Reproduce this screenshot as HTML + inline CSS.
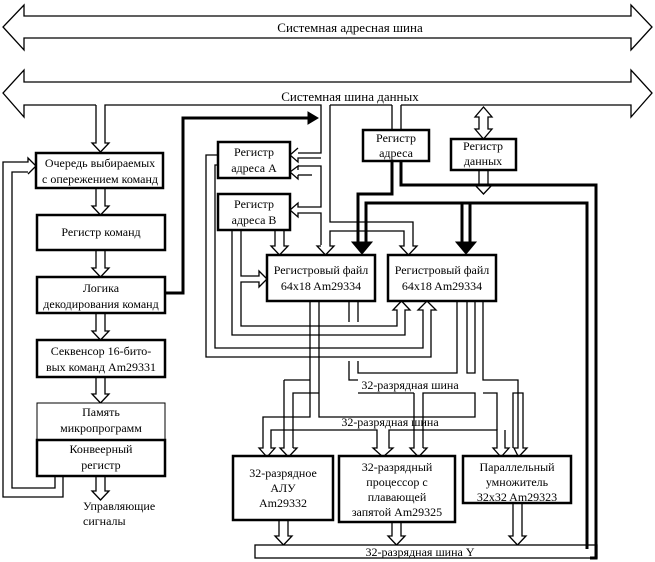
<!DOCTYPE html>
<html><head><meta charset="utf-8"><style>
html,body{margin:0;padding:0;background:#fff}
svg{display:block}
</style></head><body>
<svg width="655" height="562" viewBox="0 0 655 562" xmlns="http://www.w3.org/2000/svg">
<g fill="none" stroke="#000" stroke-width="1.3">
<path d="M24,16 H631 V5 L652,27 L631,50 V38 H24 V50 L3,27 L24,5 Z" fill="#fff"/>
<path d="M96,105 H24 V117 L3,93 L24,70 V82 H631 V70 L652,93 L631,117 V105 H401"/>
<path d="M392,105 H330"/>
<path d="M96,105 V143 H92 L100.5,152 L109,143 H105 V105 H321 V153 H298"/>
<path d="M298,148 L290,155 L298,162 V158 H321"/>
<path d="M298,170 V166 L290,172 L298,179 V175"/>
<path d="M298,166 H321 V207 H298 V203 L290,210 L298,217 V213 H321 V245"/>
<path d="M298,175 H312"/>
<path d="M330,105 V222 H413 V246 H417 L408.5,255 L400,246 H404 V231 H330 V246 H334 L325.5,255 L317,246 H321"/>
<path d="M392,105 V130 M401,105 V130"/>
<path d="M479,117 H475 L483.5,107 L492,117 H488 V129 H492 L483.5,139 L475,129 H479 Z" fill="#fff"/>
<path d="M479,170 V185 H475 L483.5,194 L492,185 H488 V170"/>
<path d="M96,188 V206 H92 L100.5,215 L109,206 H105 V188"/>
<path d="M96,250 V268 H92 L100.5,277 L109,268 H105 V250"/>
<path d="M96,313 V331 H92 L100.5,340 L109,331 H105 V313"/>
<path d="M96,377 V394 H92 L100.5,403 L109,394 H105 V377"/>
<path d="M96,476 V491 H92 L100.5,500 L109,491 H105 V476"/>
<path d="M63,476 V497 H3 V162 H28 V158 L36,166 L28,174"/>
<path d="M55,476 V488 H12 V172 H28"/>
<path d="M275,230 V246 H271 L279.5,255 L288,246 H284 V230"/>
<path d="M218,155 H206 V357 H431 V310 H436 L427,301 L418,310 H423 V348 H215 V165 H218"/>
<path d="M232,230 V335 H405 V310 H410 L401.5,301 L393,310 H397 V326 H241 V282 H259 V287 L267,279 L259,271 V276 H241 V230"/>
<path d="M310,301 V417 H263 V448 H259 L267,457 L275,448 H271 V430 H377 V448 H373 L383,457 L393,448 H389 V430 H497 V448 H493 L501,457 L509,448 H505 V430"/>
<path d="M319,301 V417 H475 V393 H423 V448"/>
<path d="M414,393 V448 H410 L418.5,457 L427,448 H423"/>
<path d="M414,393 H358"/>
<path d="M319,393 H293 V448"/>
<path d="M284,380 V448 H280 L288.5,457 L297,448 H293"/>
<path d="M284,380 H310"/>
<path d="M349,301 V322 M349,361 V380 H358 M358,301 V322 M358,361 V373 H457 V301"/>
<path d="M467,301 V373 H475 V301"/>
<path d="M483,301 V380 H518 V448 H514 L518.5,457 L527,448 H523 V393 H513 V448"/>
<path d="M483,393 H497 V430"/>
<path d="M279,520 V536 H275 L283.5,545 L292,536 H288 V520"/>
<path d="M392,522 V536 H388 L396.5,545 L405,536 H401 V522"/>
<path d="M513,503 V536 H509 L517.5,545 L526,536 H522 V503"/>
<rect x="255" y="545" width="342" height="13" fill="#fff"/>
</g>
<g fill="none" stroke="#000" stroke-width="3">
<path d="M165,293 H183 V118 H310"/>
<path d="M392,161 V194 H358 V242"/>
<path d="M401,161 V185 H596 V558 H590"/>
<path d="M366,242 V203 H587 V549"/>
<path d="M462,203 V242 M470,203 V242"/>
</g>
<g fill="#000" stroke="#000" stroke-width="1">
<path d="M308,112 L318,118 L308,124 Z"/>
<path d="M352,242 L362,254 L372,242 Z"/>
<path d="M456,242 L466,254 L476,242 Z"/>
</g>
<g fill="#fff" stroke="#000" stroke-width="2.5">
<rect x="36" y="153" width="127" height="35"/>
<rect x="37" y="215" width="128" height="35"/>
<rect x="37" y="277" width="128" height="36"/>
<rect x="37" y="340" width="128" height="37"/>
<rect x="37" y="403" width="128" height="37" stroke-width="1"/>
<rect x="37" y="440" width="128" height="36"/>
<rect x="218" y="142" width="72" height="36"/>
<rect x="218" y="194" width="72" height="36"/>
<rect x="363" y="130" width="66" height="31"/>
<rect x="451" y="139" width="65" height="31"/>
<rect x="267" y="255" width="108" height="46"/>
<rect x="388" y="255" width="108" height="46"/>
<rect x="233" y="456" width="100" height="64"/>
<rect x="339" y="456" width="116" height="66"/>
<rect x="463" y="456" width="108" height="47"/>
</g>
<g font-family="Liberation Serif, serif" font-size="12" text-anchor="middle" fill="#000">
<rect x="262" y="20" width="176" height="14" fill="#fff"/>
<text x="350" y="32" font-size="13">Системная адресная шина</text>
<rect x="268" y="89" width="164" height="14" fill="#fff"/>
<text x="350" y="101" font-size="13">Системная шина данных</text>
<text x="100" y="167">Очередь выбираемых</text>
<text x="100" y="183">с опережением команд</text>
<text x="101" y="236">Регистр команд</text>
<text x="101" y="292">Логика</text>
<text x="101" y="308">декодирования команд</text>
<text x="101" y="355">Секвенсор 16-бито-</text>
<text x="101" y="371">вых команд Am29331</text>
<text x="101" y="416">Память</text>
<text x="101" y="432">микропрограмм</text>
<text x="101" y="453">Конвеерный</text>
<text x="101" y="469">регистр</text>
<text x="83" y="510" text-anchor="start">Управляющие</text>
<text x="83" y="525" text-anchor="start">сигналы</text>
<text x="254" y="156">Регистр</text>
<text x="254" y="172">адреса А</text>
<text x="254" y="208">Регистр</text>
<text x="254" y="224">адреса В</text>
<text x="396" y="142">Регистр</text>
<text x="396" y="157">адреса</text>
<text x="483" y="150">Регистр</text>
<text x="483" y="165">данных</text>
<text x="321" y="274">Регистровый файл</text>
<text x="321" y="290">64x18 Am29334</text>
<text x="442" y="274">Регистровый файл</text>
<text x="442" y="290">64x18 Am29334</text>
<text x="283" y="477">32-разрядное</text>
<text x="283" y="492">АЛУ</text>
<text x="283" y="507">Am29332</text>
<text x="397" y="471">32-разрядный</text>
<text x="397" y="486">процессор с</text>
<text x="397" y="501">плавающей</text>
<text x="397" y="516">запятой Am29325</text>
<text x="517" y="471">Параллельный</text>
<text x="517" y="486">умножитель</text>
<text x="517" y="501">32x32 Am29323</text>
<text x="410" y="389">32-разрядная шина</text>
<text x="390" y="426">32-разрядная шина</text>
<text x="420" y="556">32-разрядная шина Y</text>
</g>
</svg>
</body></html>
